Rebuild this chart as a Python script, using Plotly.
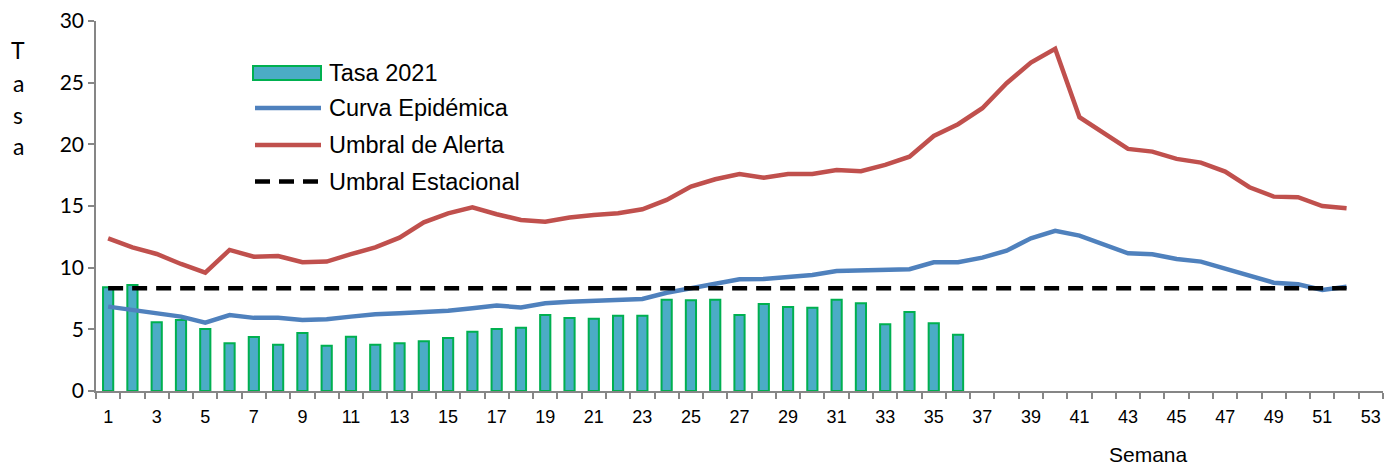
import plotly.graph_objects as go

semanas = list(range(1, 53))
semanas_tasa = list(range(1, 37))

tasa_2021 = [8.41, 8.60, 5.57, 5.76, 5.03, 3.87, 4.38, 3.76, 4.70, 3.67,
             4.40, 3.76, 3.87, 4.03, 4.30, 4.81, 5.03, 5.13, 6.16, 5.92,
             5.86, 6.11, 6.11, 7.40, 7.36, 7.40, 6.16, 7.06, 6.81, 6.76,
             7.40, 7.11, 5.41, 6.41, 5.49, 4.57]

curva_epidemica = [6.84, 6.57, 6.30, 6.03, 5.54, 6.16, 5.93, 5.93, 5.76, 5.81,
                   6.03, 6.22, 6.30, 6.38, 6.51, 6.71, 6.93, 6.77, 7.11, 7.24,
                   7.32, 7.42, 7.46, 7.97, 8.33, 8.78, 9.06, 9.08, 9.27, 9.41,
                   9.73, 9.76, 9.87, 9.87, 10.44, 10.44, 10.81, 11.38, 12.38, 12.98,
                   12.60, 11.90, 11.17, 11.09, 10.71, 10.49, 9.95, 9.35, 8.78, 8.65,
                   8.19, 8.46]

umbral_alerta = [12.38, 11.65, 11.11, 10.30, 9.59, 11.44, 10.89, 10.95, 10.44, 10.49,
                 11.09, 11.65, 12.43, 13.68, 14.41, 14.90, 14.33, 13.87, 13.73, 14.06,
                 14.27, 14.41, 14.73, 15.49, 16.57, 17.17, 17.60, 17.30, 17.60, 17.60,
                 17.92, 17.82, 18.33, 19.00, 20.68, 21.63, 22.93, 24.96, 26.63, 27.74,
                 22.20, 20.90, 19.63, 19.41, 18.82, 18.52, 17.79, 16.52, 15.76, 15.71,
                 15.00, 14.82]

umbral_estacional = [8.33] * 52

x_ticks = list(range(1, 54, 2))
y_ticks = [0, 5, 10, 15, 20, 25, 30]

series_names = ["Tasa 2021", "Curva Epidémica", "Umbral de Alerta", "Umbral Estacional"]

C_BAR = "#4BACC6"
C_BAR_LINE = "#00B050"
C_BLUE = "#4F81BD"
C_RED = "#C0504D"
C_BLACK = "#000000"
DASH = "15px,9px"

fig = go.Figure()
fig.add_trace(go.Bar(
    x=semanas_tasa, y=tasa_2021, name=series_names[0], width=0.42,
    marker=dict(color=C_BAR, line=dict(color=C_BAR_LINE, width=2)),
))
fig.add_trace(go.Scatter(
    x=semanas, y=curva_epidemica, name=series_names[1], mode="lines",
    line=dict(color=C_BLUE, width=4.5),
))
fig.add_trace(go.Scatter(
    x=semanas, y=umbral_alerta, name=series_names[2], mode="lines",
    line=dict(color=C_RED, width=4.5),
))
fig.add_trace(go.Scatter(
    x=semanas, y=umbral_estacional, name=series_names[3], mode="lines",
    line=dict(color=C_BLACK, width=4.5, dash=DASH),
))

# ---- manual legend (paper coordinates of the plot area) ----
PLOT_L, PLOT_R, PLOT_T, PLOT_B = 96, 1383, 21, 391
def px(x):
    return (x - PLOT_L) / (PLOT_R - PLOT_L)
def py(y):
    return (PLOT_B - y) / (PLOT_B - PLOT_T)

legend_rows_y = [73, 108, 145, 181.5]
sym_x0, sym_x1, text_x = 253, 321, 327
shapes = []
annotations = []
# bar swatch
shapes.append(dict(type="rect", xref="paper", yref="paper",
                   x0=px(sym_x0), x1=px(sym_x1),
                   y0=py(legend_rows_y[0] + 7), y1=py(legend_rows_y[0] - 7),
                   fillcolor=C_BAR, line=dict(color=C_BAR_LINE, width=2)))
for yy, col, dash in zip(legend_rows_y[1:], [C_BLUE, C_RED, C_BLACK], ["solid", "solid", DASH]):
    shapes.append(dict(type="line", xref="paper", yref="paper",
                       x0=px(sym_x0 + 2), x1=px(sym_x1), y0=py(yy), y1=py(yy),
                       line=dict(color=col, width=4.5, dash=dash)))
for yy, name in zip(legend_rows_y, series_names):
    annotations.append(dict(text=name, xref="paper", yref="paper",
                            x=px(text_x), y=py(yy), xanchor="left", yanchor="middle",
                            showarrow=False,
                            font=dict(family="Liberation Sans, Arial, sans-serif", size=23.5, color="black")))

# vertical axis title "Tasa", one letter per line
for letter, yy in zip("Tasa", [50, 83, 115, 146]):
    annotations.append(dict(text=letter, xref="paper", yref="paper",
                            x=px(18), y=py(yy), xanchor="center", yanchor="middle",
                            showarrow=False,
                            font=dict(family="Lato, Open Sans, sans-serif", size=23, color="black")))
annotations.append(dict(text="Semana", xref="paper", yref="paper",
                        x=px(1148), y=py(454), xanchor="center", yanchor="middle", showarrow=False,
                        font=dict(family="Liberation Sans, Arial, sans-serif", size=21, color="black")))

fig.update_layout(
    width=1391, height=459,
    margin=dict(l=88, r=16, t=13, b=76, autoexpand=False),
    paper_bgcolor="white", plot_bgcolor="white",
    showlegend=False,
    bargap=0.5,
    shapes=shapes,
    annotations=annotations,
    xaxis=dict(
        range=[0.5, 53.5], tickmode="array", tickvals=x_ticks,
        ticks="outside", ticklen=9, tickcolor="rgba(0,0,0,0)",
        showgrid=False, zeroline=False, automargin=False,
        showline=True, linecolor="#868686", linewidth=1.5,
        tickfont=dict(family="Liberation Sans, Arial, sans-serif", size=18, color="black"),
        ticklabeloverflow="allow",
        minor=dict(tick0=0.5, dtick=1, ticks="outside", ticklen=6,
                   tickcolor="#868686", tickwidth=1.5),
    ),
    yaxis=dict(
        range=[0, 30], tickmode="array", tickvals=y_ticks,
        ticks="outside", ticklen=6, tickcolor="#868686", tickwidth=1.5,
        showgrid=False, zeroline=False, automargin=False,
        showline=True, linecolor="#868686", linewidth=1.5,
        ticklabeloverflow="allow",
        tickfont=dict(family="Lato, Open Sans, sans-serif", size=21, color="black"),
    ),
)

fig.write_html("out.html")
